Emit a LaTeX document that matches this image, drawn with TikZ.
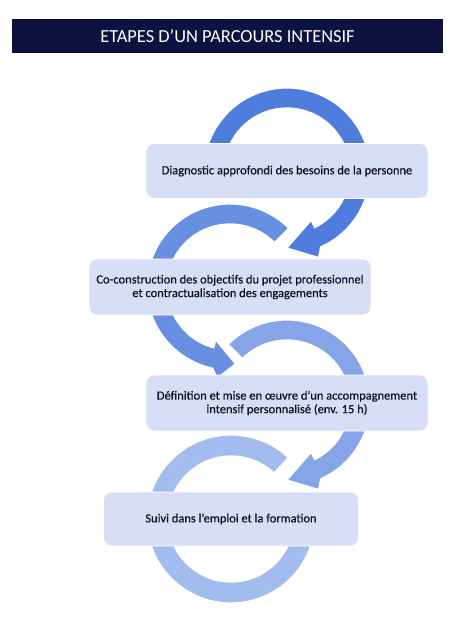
\documentclass[tikz,border=0pt]{standalone}
\usepackage{fontspec}
\setmainfont{Carlito}
\newfontfamily\boxfont{Carlito}[FakeBold=0.5]
\usetikzlibrary{calc}
\definecolor{ringA}{HTML}{4F7DDE}
\definecolor{ringB}{HTML}{6890E2}
\definecolor{ringC}{HTML}{86A5E9}
\definecolor{ringD}{HTML}{A3BCEF}
\definecolor{boxfill}{HTML}{D6DFF6}
\definecolor{navy}{HTML}{0E1240}
\definecolor{textdark}{HTML}{10101F}
\tikzset{
  ringshape/.style={draw=white, line width=0.9pt, line join=miter},
  stepbox/.style={draw=white, line width=0.6pt, fill=boxfill, rounded corners=6pt,
    inner sep=0pt, align=center, text=textdark, font=\boxfont\fontsize{9.35}{10.2}\selectfont},
  titlebar/.style={fill=navy, inner sep=0pt, text=white, font=\fontsize{13.8}{16}\selectfont,
    minimum width=323.25pt, minimum height=25.5pt},
}
\begin{document}
\begin{tikzpicture}[x=0.75pt,y=0.75pt]
\useasboundingbox (0,0) rectangle (470,-621);
\fill[white] (0,0) rectangle (470,-621);
\coordinate (c1) at (287,-171);
\coordinate (c2) at (230,-287);
\coordinate (c3) at (287,-403);
\coordinate (c4) at (231,-519);
% title
\node[titlebar] (title) at (227.5,-36) {ETAPES D’UN PARCOURS INTENSIF};
% ring 1 (clockwise)
\filldraw[ringshape, fill=ringA]
  ($(c1)+(195:83)$) arc[start angle=195, end angle=-66, radius=83]
  -- ($(c1)+(-70:92)$) -- ($(c1)+(-90:77)$) -- ($(c1)+(-64:55)$)
  -- ($(c1)+(-64:63)$) arc[start angle=-64, end angle=195, radius=63] -- cycle;
% ring 2 (counter-clockwise)
\filldraw[ringshape, fill=ringB]
  ($(c2)+(45:83)$) arc[start angle=45, end angle=258, radius=83]
  -- ($(c2)+(262:92)$) -- ($(c2)+(274:77)$) -- ($(c2)+(255:55)$)
  -- ($(c2)+(255:63)$) arc[start angle=255, end angle=45, radius=63] -- cycle;
% ring 3 (clockwise)
\filldraw[ringshape, fill=ringC]
  ($(c3)+(135:83)$) arc[start angle=135, end angle=-66, radius=83]
  -- ($(c3)+(-70:92)$) -- ($(c3)+(-90:77)$) -- ($(c3)+(-64:55)$)
  -- ($(c3)+(-64:63)$) arc[start angle=-64, end angle=135, radius=63] -- cycle;
% ring 4 (counter-clockwise, no head)
\filldraw[ringshape, fill=ringD]
  ($(c4)+(47:84)$) arc[start angle=47, end angle=360, radius=84]
  -- ($(c4)+(0:63)$) arc[start angle=360, end angle=47, radius=63] -- cycle;
% boxes
\node[stepbox, minimum width=211.5pt, minimum height=41.25pt] (s1) at (c1)
  {Diagnostic approfondi des besoins de la personne};
\node[stepbox, minimum width=211.5pt, minimum height=42pt] (s2) at (c2)
  {Co-construction des objectifs du projet professionnel\\et contractualisation des engagements};
\node[stepbox, minimum width=211.5pt, minimum height=42pt] (s3) at (c3)
  {Définition et mise en œuvre d’un accompagnement\\intensif personnalisé (env. 15 h)};
\node[stepbox, minimum width=191.25pt, minimum height=40.5pt] (s4) at (c4)
  {Suivi dans l’emploi et la formation};
\end{tikzpicture}
\end{document}
